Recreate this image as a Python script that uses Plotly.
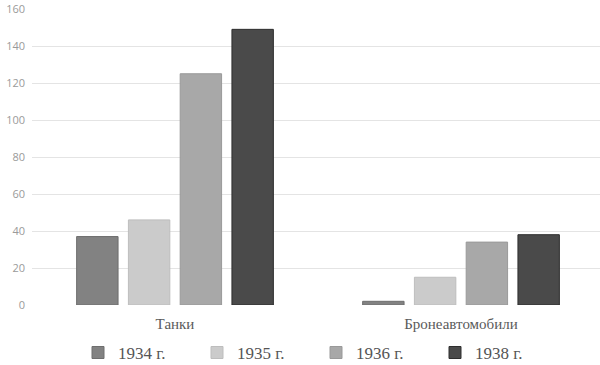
import plotly.graph_objects as go

categories = ["Танки", "Бронеавтомобили"]
series_names = ["1934 г.", "1935 г.", "1936 г.", "1938 г."]
values_1934 = [37, 2]
values_1935 = [46, 15]
values_1936 = [125, 34]
values_1938 = [149, 38]
y_ticks = [0, 20, 40, 60, 80, 100, 120, 140, 160]

all_values = [values_1934, values_1935, values_1936, values_1938]
colors = ["#828282", "#cbcbcb", "#a8a8a8", "#4a4a4a"]
line_colors = ["#6e6e6e", "#bdbdbd", "#999999", "#2e2e2e"]

fig = go.Figure()
for name, vals, c, lc in zip(series_names, all_values, colors, line_colors):
    fig.add_trace(go.Bar(
        x=categories, y=vals, name=name,
        marker=dict(color=c, line=dict(color=lc, width=1)),
    ))

fig.update_layout(
    width=600, height=365,
    margin=dict(l=32, r=0, t=9, b=60),
    paper_bgcolor="white", plot_bgcolor="white",
    barmode="group", bargap=0.276, bargroupgap=0.2,
    showlegend=True,
    legend=dict(
        orientation="h", xref="container", yref="container",
        x=0.13, xanchor="left", y=0.033, yanchor="middle",
        entrywidth=74, traceorder="normal",
        font=dict(family="Liberation Serif", size=17, color="#555555"),
    ),
    xaxis=dict(
        range=[-0.5, 1.486],
        showgrid=False, showline=False, zeroline=False, ticks="",
        ticklabelstandoff=8,
        tickfont=dict(family="Liberation Serif", size=15, color="#5a5a5a"),
    ),
    yaxis=dict(
        range=[0, 160], tickvals=y_ticks, showline=False, zeroline=False,
        gridcolor="#e4e4e4", gridwidth=1, ticks="", ticklabelstandoff=6,
        tickfont=dict(family="Open Sans", size=11, color="#9a9a9a"),
    ),
)

fig.write_html("out.html")
